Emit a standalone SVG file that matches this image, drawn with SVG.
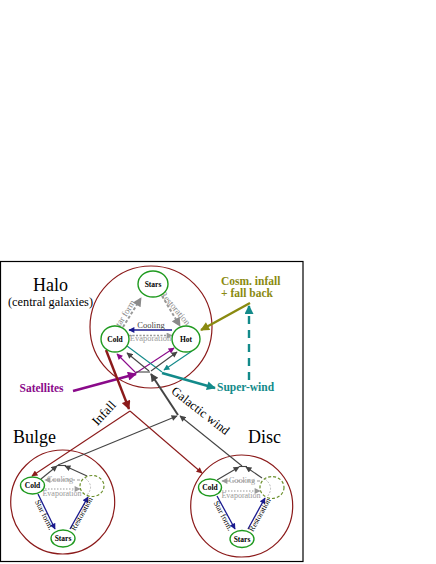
<svg xmlns="http://www.w3.org/2000/svg" width="436" height="564" viewBox="0 0 436 564">
<style>
text{font-family:"Liberation Serif","Times New Roman",serif}
.reg{fill:none;stroke:#8b1a1a;stroke-width:1.2}
.node{fill:#fff;stroke:#1f9a1f;stroke-width:1.4}
.hotd{fill:#fff;stroke:#6a8f2a;stroke-width:1.2;stroke-dasharray:3,2}
.nt{font-size:7.5px;font-weight:bold;fill:#000;text-anchor:middle}
.big{font-size:18px;fill:#000}
.lbl{font-weight:bold;font-size:11.5px}
.red{stroke:#8b1a1a;fill:none}
.pur{stroke:#8a0a8a;fill:none}
.teal{stroke:#138a8a;fill:none}
.oli{stroke:#8a8a10;fill:none}
.navy{stroke:#1a1a8f;fill:none;stroke-width:1.3}
.dg{stroke:#444;fill:none}
.lg{stroke:#9a9a9a;fill:none}
.thin{stroke-width:1.1}
.thick{stroke-width:2.4}
.gt{font-size:8px;fill:#999;text-anchor:middle}
.it{font-size:8px;fill:#000;text-anchor:middle}
</style>
<defs>
<marker id="rB" viewBox="0 0 10 10" refX="9" refY="5" markerWidth="11" markerHeight="9" markerUnits="userSpaceOnUse" orient="auto"><path d="M0,0L10,5L0,10z" fill="#8b1a1a"/></marker>
<marker id="rS" viewBox="0 0 10 10" refX="9" refY="5" markerWidth="7" markerHeight="6" markerUnits="userSpaceOnUse" orient="auto"><path d="M0,0L10,5L0,10z" fill="#8b1a1a"/></marker>
<marker id="pB" viewBox="0 0 10 10" refX="9" refY="5" markerWidth="11" markerHeight="9" markerUnits="userSpaceOnUse" orient="auto"><path d="M0,0L10,5L0,10z" fill="#8a0a8a"/></marker>
<marker id="pS" viewBox="0 0 10 10" refX="9" refY="5" markerWidth="7" markerHeight="6" markerUnits="userSpaceOnUse" orient="auto"><path d="M0,0L10,5L0,10z" fill="#8a0a8a"/></marker>
<marker id="tB" viewBox="0 0 10 10" refX="9" refY="5" markerWidth="11" markerHeight="9" markerUnits="userSpaceOnUse" orient="auto"><path d="M0,0L10,5L0,10z" fill="#138a8a"/></marker>
<marker id="tS" viewBox="0 0 10 10" refX="9" refY="5" markerWidth="7" markerHeight="6" markerUnits="userSpaceOnUse" orient="auto"><path d="M0,0L10,5L0,10z" fill="#138a8a"/></marker>
<marker id="oB" viewBox="0 0 10 10" refX="9" refY="5" markerWidth="11" markerHeight="9" markerUnits="userSpaceOnUse" orient="auto"><path d="M0,0L10,5L0,10z" fill="#8a8a10"/></marker>
<marker id="nS" viewBox="0 0 10 10" refX="9" refY="5" markerWidth="7" markerHeight="6" markerUnits="userSpaceOnUse" orient="auto"><path d="M0,0L10,5L0,10z" fill="#1a1a8f"/></marker>
<marker id="dB" viewBox="0 0 10 10" refX="9" refY="5" markerWidth="10" markerHeight="8" markerUnits="userSpaceOnUse" orient="auto"><path d="M0,0L10,5L0,10z" fill="#444"/></marker>
<marker id="dS" viewBox="0 0 10 10" refX="9" refY="5" markerWidth="7" markerHeight="6" markerUnits="userSpaceOnUse" orient="auto"><path d="M0,0L10,5L0,10z" fill="#444"/></marker>
<marker id="gB" viewBox="0 0 10 10" refX="9" refY="5" markerWidth="10" markerHeight="9" markerUnits="userSpaceOnUse" orient="auto"><path d="M0,0L10,5L0,10z" fill="#8a8a8a"/></marker>
<marker id="gS" viewBox="0 0 10 10" refX="9" refY="5" markerWidth="7" markerHeight="6" markerUnits="userSpaceOnUse" orient="auto"><path d="M0,0L10,5L0,10z" fill="#9a9a9a"/></marker>
</defs>
<rect x="0.5" y="261.5" width="302.5" height="300" fill="#fff" stroke="#000" stroke-width="1.2"/>

<g id="regions">
<circle class="reg" cx="151" cy="327" r="61"/>
<circle class="reg" cx="62.7" cy="502" r="52"/>
<circle class="reg" cx="241.7" cy="506" r="51"/>
<text class="big" x="33" y="290.5">Halo</text>
<text x="8" y="306" font-size="12.3">(central galaxies)</text>
<text class="big" x="13" y="443">Bulge</text>
<text class="big" x="248" y="443">Disc</text>
</g>

<g id="connectors">
<!-- halo internal -->
<line class="lg" x1="123" y1="327" x2="141" y2="298" stroke="#8a8a8a" stroke-width="2" stroke-dasharray="3,2" marker-end="url(#gB)"/>
<line class="lg" x1="162" y1="296" x2="180" y2="326" stroke="#8a8a8a" stroke-width="2" stroke-dasharray="3,2" marker-end="url(#gB)"/>
<line class="navy" x1="172" y1="330" x2="129" y2="330" marker-end="url(#nS)"/>
<line class="lg" x1="129" y1="335.5" x2="172" y2="335.5" stroke-width="1.3" stroke-dasharray="2,1.5" marker-end="url(#gS)"/>
<text x="127" y="316" font-size="9" fill="#888" text-anchor="middle" transform="rotate(-58 127 316)">Star form.</text>
<text x="173" y="310" font-size="9" fill="#888" text-anchor="middle" transform="rotate(50 173 310)">Restoration</text>
<text x="151" y="328" font-size="8.5" fill="#444" text-anchor="middle">Cooling</text>
<text x="150.5" y="341" font-size="8.5" fill="#999" text-anchor="middle">Evaporation</text>

<!-- satellites -->
<line class="pur thick" x1="73" y1="391" x2="136" y2="374" marker-end="url(#pB)"/>
<line class="pur thin" x1="136" y1="373" x2="174" y2="348" marker-end="url(#pS)"/>
<line class="pur thin" x1="136" y1="373" x2="117" y2="354" marker-end="url(#pS)"/>
<line class="dg thin" x1="136" y1="372" x2="150" y2="372"/>

<!-- super-wind -->
<line class="teal thin" x1="127" y1="346" x2="162" y2="372"/>
<line class="teal thin" x1="192" y1="351" x2="164" y2="370" marker-end="url(#tS)"/>
<line class="teal thick" x1="162" y1="373" x2="215" y2="388" marker-end="url(#tB)"/>
<line class="teal thick" x1="249" y1="380" x2="249" y2="306" stroke-dasharray="8,6" marker-end="url(#tB)"/>

<!-- cosmological infall -->
<line class="oli thick" x1="250" y1="303" x2="201" y2="330" marker-end="url(#oB)"/>

<!-- galactic wind -->
<line class="dg thin" x1="149" y1="371" x2="127" y2="353" marker-end="url(#dS)"/>
<line class="dg thin" x1="151" y1="371" x2="177" y2="352" marker-end="url(#dS)"/>
<line class="dg" stroke-width="2" x1="178" y1="415" x2="151" y2="374" marker-end="url(#dB)"/>
<line class="dg thin" x1="58" y1="465" x2="177" y2="416" marker-end="url(#dS)"/>
<line class="dg thin" x1="242" y1="466" x2="180" y2="416" marker-end="url(#dS)"/>
<line class="dg thin" x1="41" y1="479" x2="57" y2="466" marker-end="url(#dS)"/>
<line class="dg thin" x1="87" y1="476" x2="65" y2="466" marker-end="url(#dS)"/>
<line class="dg thin" x1="57" y1="465.5" x2="66" y2="465.5"/>
<line class="dg thin" x1="217" y1="480" x2="239" y2="467" marker-end="url(#dS)"/>
<line class="dg thin" x1="262" y1="478" x2="246" y2="467" marker-end="url(#dS)"/>
<line class="dg thin" x1="239" y1="466.5" x2="247" y2="466.5"/>
<text x="198" y="414" font-size="12.5" fill="#000" text-anchor="middle" transform="rotate(38 198 414)">Galactic wind</text>

<!-- infall -->
<line class="red" stroke-width="2.4" x1="106" y1="350" x2="129" y2="409" marker-end="url(#rB)"/>
<line class="red thin" x1="130" y1="411" x2="32" y2="476" marker-end="url(#rS)"/>
<line class="red thin" x1="130" y1="411" x2="202" y2="473" marker-end="url(#rS)"/>
<text x="107" y="416" font-size="13" fill="#000" text-anchor="middle" transform="rotate(-47 107 416)">Infall</text>

<!-- bulge internal -->
<line class="lg thin" x1="80" y1="480" x2="45" y2="480" stroke-dasharray="3,2" marker-end="url(#gS)"/>
<line class="lg thin" x1="45" y1="489" x2="80" y2="489" stroke-dasharray="1.5,1.5" marker-end="url(#gS)"/>
<text class="gt" x="60" y="482">Cooling</text>
<text class="gt" x="62" y="496">Evaporation</text>
<line class="navy" x1="38" y1="494" x2="55" y2="529" marker-end="url(#nS)"/>
<line class="navy" x1="70" y1="529" x2="88" y2="497" marker-end="url(#nS)"/>
<text class="it" x="42" y="516" transform="rotate(63 42 516)">Star form.</text>
<text class="it" x="84" y="515" transform="rotate(-61 84 515)">Restoration</text>

<!-- disc internal -->
<line class="lg thin" x1="260" y1="481" x2="222" y2="481" stroke-dasharray="3,2" marker-end="url(#gS)"/>
<line class="lg thin" x1="222" y1="491" x2="260" y2="491" stroke-dasharray="1.5,1.5" marker-end="url(#gS)"/>
<text class="gt" x="242" y="483">Cooling</text>
<text class="gt" x="241" y="498">Evaporation</text>
<line class="navy" x1="217" y1="496" x2="235" y2="529" marker-end="url(#nS)"/>
<line class="navy" x1="248" y1="529" x2="265" y2="498" marker-end="url(#nS)"/>
<text class="it" x="221" y="517" transform="rotate(62 221 517)">Star form.</text>
<text class="it" x="262" y="516" transform="rotate(-61 262 516)">Restoration</text>
</g>

<g id="halo-stars"><ellipse class="node" cx="153" cy="284" rx="15" ry="13"/><text class="nt" x="153" y="287">Stars</text></g>
<g id="halo-cold"><ellipse class="node" cx="115" cy="339" rx="14" ry="13"/><text class="nt" x="115" y="341.5">Cold</text></g>
<g id="halo-hot"><ellipse class="node" cx="186" cy="339" rx="14" ry="13"/><text class="nt" x="186" y="341.5">Hot</text></g>

<g id="bulge-cold"><ellipse class="node" cx="32.5" cy="485.5" rx="12" ry="8.5"/><text class="nt" x="32.5" y="488">Cold</text></g>
<g id="bulge-hot"><ellipse class="hotd" fill-opacity="0" cx="92" cy="486" rx="12" ry="10.5"/><path d="M85,478 Q95,486 87,495" fill="none" stroke="#aaa" stroke-width="0.8" stroke-dasharray="2,1.5"/></g>
<g id="bulge-stars"><ellipse class="node" cx="63" cy="538.5" rx="12" ry="8.5"/><text class="nt" x="63" y="541">Stars</text></g>

<g id="disc-cold"><ellipse class="node" cx="210" cy="487.5" rx="11.5" ry="8.5"/><text class="nt" x="210" y="490">Cold</text></g>
<g id="disc-hot"><ellipse class="hotd" fill-opacity="0" cx="272" cy="487.5" rx="12" ry="11"/><path d="M265,479 Q275,487 267,497" fill="none" stroke="#aaa" stroke-width="0.8" stroke-dasharray="2,1.5"/></g>
<g id="disc-stars"><ellipse class="node" cx="242" cy="539" rx="12" ry="8.5"/><text class="nt" x="242" y="541.5">Stars</text></g>

<g id="labels">
<text class="lbl" x="19.5" y="392" fill="#8a0a8a" font-size="12">Satellites</text>
<text class="lbl" x="221" y="285" fill="#8a8a10">Cosm. infall</text>
<text class="lbl" x="221" y="297" fill="#8a8a10">+ fall back</text>
<text class="lbl" x="217" y="391" fill="#138a8a">Super-wind</text>
</g>
</svg>
